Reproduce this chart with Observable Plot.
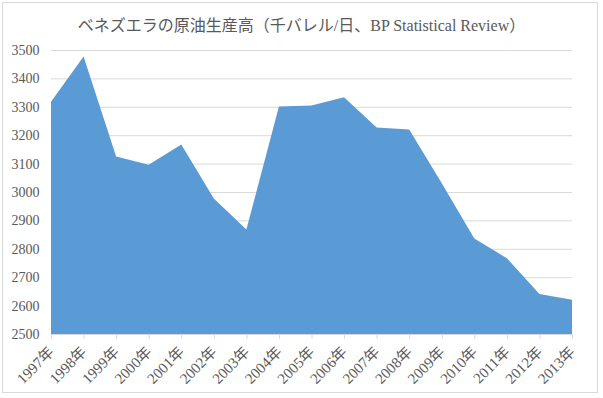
<!DOCTYPE html>
<html>
<head>
<meta charset="utf-8">
<script src="https://cdn.jsdelivr.net/npm/d3@7"></script>
<script src="https://cdn.jsdelivr.net/npm/@observablehq/plot@0.6"></script>
<style>
  html, body { margin: 0; padding: 0; background: #fff; }
  #wrap { position: relative; width: 603px; height: 398px; overflow: hidden; }
  #border { position: absolute; left: 2px; top: 2px; width: 594px; height: 389px; border: 1px solid #d9d9d9; box-sizing: content-box; pointer-events: none; }
  #title { position: absolute; left: 0; top: 12px; width: 603px; text-align: center; font: 16px "Liberation Serif", "Noto Sans CJK JP", serif; color: #595959; }
  #chart { position: absolute; left: 0; top: 0; }
</style>
</head>
<body>
<div id="wrap">
  <div id="chart"></div>
  <div id="border"></div>
  <div id="title">ベネズエラの原油生産高（千バレル/日、BP Statistical Review）</div>
</div>
<script>
const years = [1997, 1998, 1999, 2000, 2001, 2002, 2003, 2004, 2005, 2006, 2007, 2008, 2009, 2010, 2011, 2012, 2013];
const production = [3318, 3477, 3125, 3096, 3167, 2977, 2868, 3301, 3305, 3334, 3227, 3220, 3031, 2836, 2767, 2641, 2621];
const yTicks = [2500, 2600, 2700, 2800, 2900, 3000, 3100, 3200, 3300, 3400, 3500];

const data = years.map((y, i) => ({year: y, value: production[i]}));
const font = '"Liberation Serif", "Noto Sans CJK JP", serif';

const chart = Plot.plot({
  width: 603,
  height: 398,
  marginLeft: 51,
  marginRight: 31,
  marginTop: 50,
  marginBottom: 64,
  style: {fontFamily: font, fontSize: "14px", color: "#595959", background: "transparent"},
  x: {type: "linear", domain: [1997, 2013]},
  y: {domain: [2500, 3500]},
  marks: [
    Plot.gridY(yTicks, {stroke: "#d9d9d9", strokeOpacity: 1, strokeWidth: 1}),
    Plot.areaY(data, {x: "year", y1: 2500, y2: "value", fill: "#5b9bd5"}),
    Plot.ruleY([2500], {stroke: "#d9d9d9", strokeWidth: 1}),
    Plot.axisY(yTicks, {tickSize: 0, tickPadding: 12, label: null, tickFormat: d => String(d), fill: "#595959", fontSize: 14}),
    Plot.axisX(years, {tickSize: 5, stroke: "#d9d9d9", tickRotate: -45, tickPadding: 10, label: null, tickFormat: d => d + "年", fill: "#595959", fontSize: 15})
  ]
});
document.getElementById("chart").appendChild(chart);
</script>
</body>
</html>
